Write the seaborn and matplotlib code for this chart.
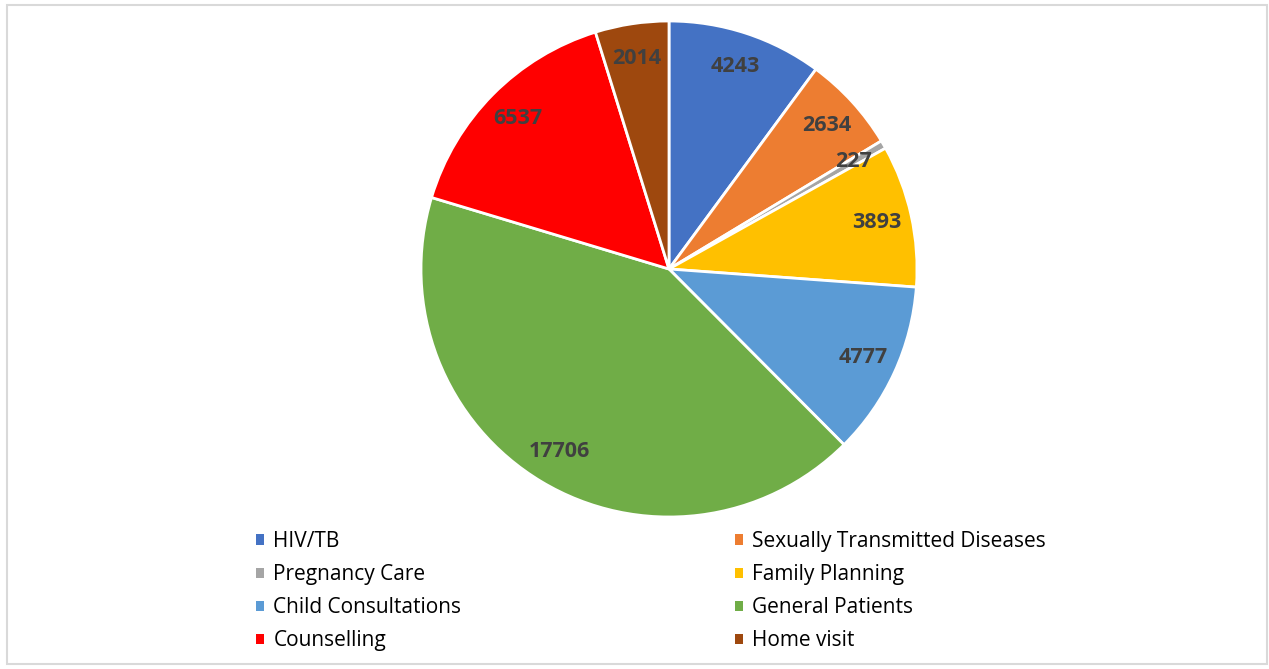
import matplotlib
matplotlib.use("Agg")
import matplotlib.pyplot as plt
import seaborn as sns
from matplotlib.patches import Rectangle

categories = ["HIV/TB", "Sexually Transmitted Diseases", "Pregnancy Care",
              "Family Planning", "Child Consultations", "General Patients",
              "Counselling", "Home visit"]
values = [4243, 2634, 227, 3893, 4777, 17706, 6537, 2014]
colors = ["#4472C4", "#ED7D31", "#A5A5A5", "#FFC000",
          "#5B9BD5", "#70AD47", "#FF0000", "#9E480E"]

sns.set_theme(style="white")
plt.rcParams['font.family'] = ['Open Sans', 'DejaVu Sans']

W, H = 1269, 669
fig = plt.figure(figsize=(W / 100, H / 100), dpi=100)
fig.patch.set_facecolor("white")

# border frame
fig.add_artist(Rectangle((7 / W, 5 / H), (W - 9) / W, (H - 10) / H,
                         transform=fig.transFigure, fill=False,
                         edgecolor="#D9D9D9", linewidth=1.5))

cx, cy, r = 669, H - 269, 248
ax = fig.add_axes([(cx - r) / W, (cy - r) / H, 2 * r / W, 2 * r / H])
total = sum(values)
wedges, texts, autotexts = ax.pie(
    values, colors=colors, startangle=90, counterclock=False,
    autopct=lambda p: f"{round(p * total / 100)}", pctdistance=0.86,
    wedgeprops=dict(edgecolor="white", linewidth=2.0),
    textprops=dict(color="#404040", fontsize=15.5, fontweight="bold"))
ax.set_xlim(-1, 1)
ax.set_ylim(-1, 1)
ax.set_aspect("equal")
ax.axis("off")

col1 = [0, 2, 4, 6]
col2 = [1, 3, 5, 7]
common = dict(frameon=False, fontsize=15, handlelength=0.38, handleheight=0.38,
              handletextpad=0.45, labelspacing=0.58, loc="upper left",
              borderaxespad=0, borderpad=0)
leg1 = fig.legend([wedges[i] for i in col1], [categories[i] for i in col1],
                  bbox_to_anchor=(256 / W, 1 - 531 / H), **common)
leg2 = fig.legend([wedges[i] for i in col2], [categories[i] for i in col2],
                  bbox_to_anchor=(735 / W, 1 - 531 / H), **common)
for leg in (leg1, leg2):
    for h in leg.legend_handles:
        h.set_edgecolor("none")
    for t in leg.get_texts():
        t.set_color("#000000")

fig.savefig("out.png", dpi=100, facecolor="white")
